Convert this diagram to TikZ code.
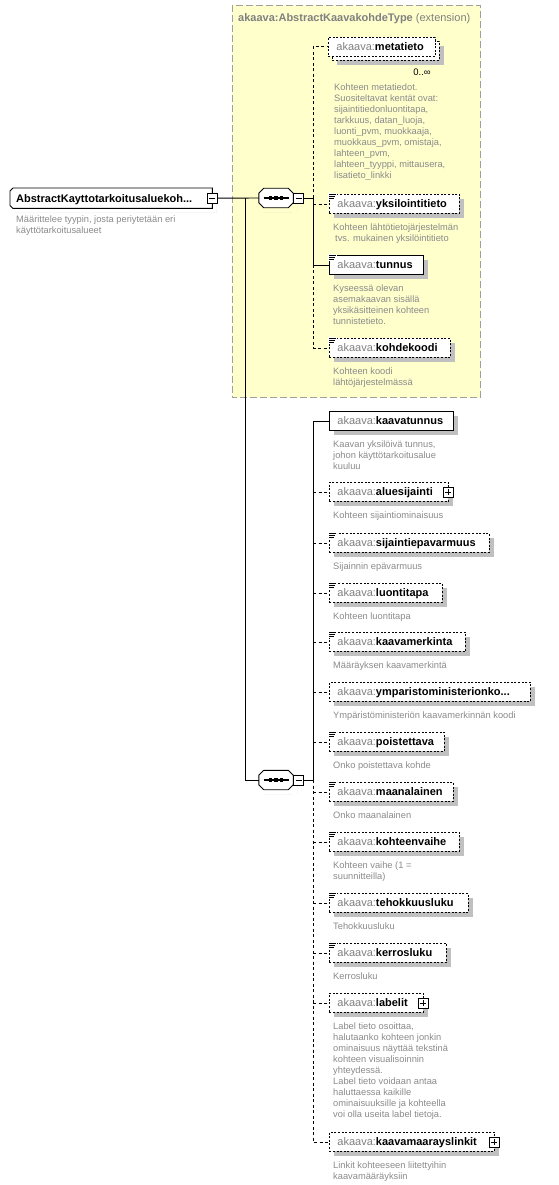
\documentclass[tikz,border=0pt]{standalone}
\usepackage{fontspec}
\setmainfont{Liberation Sans}
\usetikzlibrary{shadows}
\definecolor{akgrey}{HTML}{808080}
\definecolor{descgrey}{HTML}{8A8A8A}
\definecolor{ylw}{HTML}{FFFFCC}
\definecolor{shgrey}{HTML}{C0C0C0}
\definecolor{framegrey}{HTML}{A0A0A0}
\newcommand\ename[2]{\makebox[#1][l]{\textcolor{akgrey}{akaava:}\textbf{#2}}}
\newcommand\simpicon[1]{%
  \fill[white] ([xshift=-1pt,yshift=1pt]#1.north west) rectangle ++(8.5pt,-7pt);
  \draw[line width=0.8pt] ([yshift=-0.5pt]#1.north west) -- ++(7pt,0pt);
  \draw[line width=0.8pt] ([yshift=-2.5pt]#1.north west) -- ++(6pt,0pt);
  \draw[line width=0.8pt] ([yshift=-4.5pt]#1.north west) -- ++(5pt,0pt);}
% octagon outline of a named node, chamfer #2 (left) and #3 (right)
\newcommand\octpath[3]{([xshift=#2]#1.north west) -- ([xshift=-#3]#1.north east) -- ([yshift=-#3]#1.north east)
  -- ([yshift=#3]#1.south east) -- ([xshift=-#3]#1.south east) -- ([xshift=#2]#1.south west)
  -- ([yshift=#2]#1.south west) -- ([yshift=-#2]#1.north west) -- cycle}
\newcommand\octshape[3]{%
  \fill[shgrey] ([shift={(4.5pt,-4.5pt)}]#1.north west) ++(#2,0pt) -- ([shift={(4.5pt,-4.5pt)}]#1.north east) ++(-#3,0pt)
     -- ([shift={(4.5pt,-4.5pt)}]#1.north east) ++(0pt,-#3) -- ([shift={(4.5pt,-4.5pt)}]#1.south east) ++(0pt,#3)
     -- ([shift={(4.5pt,-4.5pt)}]#1.south east) ++(-#3,0pt) -- ([shift={(4.5pt,-4.5pt)}]#1.south west) ++(#2,0pt)
     -- ([shift={(4.5pt,-4.5pt)}]#1.south west) ++(0pt,#2) -- ([shift={(4.5pt,-4.5pt)}]#1.north west) ++(0pt,-#2) -- cycle;
  \filldraw[fill=white, draw=black, line width=0.9pt] \octpath{#1}{#2}{#3};}
\tikzset{
  shad/.style={drop shadow={shadow xshift=4.5pt, shadow yshift=-4.5pt, fill=shgrey, opacity=1}},
  elbase/.style={draw=black, fill=white, line width=0.9pt, anchor=north west,
    inner xsep=8pt, inner ysep=0pt, minimum height=19pt, text height=8pt, text depth=0pt,
    font=\fontsize{11}{13}\selectfont},
  elbox/.style={elbase, shad},
  optb/.style={dash pattern=on 2pt off 1.6pt},
  conn/.style={line width=0.9pt},
  optc/.style={conn, dash pattern=on 3pt off 2.5pt},
  desc/.style={anchor=north west, inner sep=0pt, align=left, text=descgrey,
    font=\fontsize{9.3}{11}\selectfont},
  pm/.style={draw=black, fill=white, line width=0.8pt, minimum size=10pt, inner sep=0pt},
  minusbox/.style={pm, path picture={\draw[line width=0.8pt] ([xshift=2pt]path picture bounding box.west) -- ([xshift=-2pt]path picture bounding box.east);}},
  plusbox/.style={pm, path picture={\draw[line width=0.8pt] ([xshift=2pt]path picture bounding box.west) -- ([xshift=-2pt]path picture bounding box.east);
      \draw[line width=0.8pt] ([yshift=-2pt]path picture bounding box.north) -- ([yshift=2pt]path picture bounding box.south);}},
  seqbox/.style={rectangle, minimum width=34pt, minimum height=19pt, inner sep=0pt},
  rootbox/.style={rectangle, anchor=north west, inner xsep=6pt, inner ysep=0pt, minimum height=20pt,
    text height=8pt, text depth=0pt, font=\fontsize{11}{13}\selectfont\bfseries}
}
\begin{document}
\begin{tikzpicture}[x=1pt,y=-1pt]
\useasboundingbox (0,0) rectangle (558,1185);
% extension region
\fill[ylw] (232,5.5) rectangle (480.5,397.5);
\draw[framegrey, line width=0.9pt, dash pattern=on 7pt off 3pt] (232,5.5) rectangle (480.5,397.5);
\node[anchor=base west, inner sep=0pt, text=akgrey, font=\fontsize{11}{13}\selectfont] (title) at (238,22)
  {\textbf{akaava:AbstractKaavakohdeType} (extension)};

% root
\node[rootbox] (root) at (10,188) {\makebox[190pt][l]{\phantom{A}}};
\octshape{root}{3pt}{0pt}
\node[rootbox] (roottxt) at (10,188) {\makebox[190pt][l]{AbstractKayttotarkoitusaluekoh...}};
\node[minusbox] (rootm) at (root.east) {};
\node[desc] (rootd) at (16,214.5) {\strut M\"a\"arittelee tyypin, josta periytet\"a\"an eri\\k\"aytt\"otarkoitusalueet};

% sequences
\node[seqbox] (seq1) at (276,198) {};
\node[seqbox] (seq2) at (276,780) {};
\foreach \s in {seq1,seq2}{
  \octshape{\s}{5pt}{5pt}
  \draw[line width=1.1pt] ([xshift=-12.5pt]\s.center) -- ([xshift=12.5pt]\s.center);
  \foreach \d in {-5.5,0,5.5}{
    \fill ([xshift=\d pt]\s.center) ++(-1.7pt,-1.7pt) rectangle ++(3.4pt,3.4pt);}
}
\node[minusbox, anchor=west] (seq1m) at (seq1.east) {};
\node[minusbox, anchor=west] (seq2m) at (seq2.east) {};
\coordinate (j) at (245,198);
\coordinate (s1) at (313,198);
\coordinate (s2) at (313,780);

% first sequence elements
\node[elbase, optb, minimum width=107pt, shad] (metab) at (332,41) {};
\node[elbase, optb] (meta) at (328,37) {\ename{91pt}{metatieto}};
\node[inner sep=0pt, font=\fontsize{9.5}{11}\selectfont] (occ) at (422,72) {0..∞};
\node[desc] (metad) at (334,83) {\strut Kohteen metatiedot.\\Suositeltavat kent\"at ovat:\\sijaintitiedonluontitapa,\\tarkkuus, datan\_luoja,\\luonti\_pvm, muokkaaja,\\muokkaus\_pvm, omistaja,\\lahteen\_pvm,\\lahteen\_tyyppi, mittausera,\\lisatieto\_linkki};

\node[elbox, optb] (yks) at (329,194) {\ename{114pt}{yksilointitieto}};
\node[desc] (yksd) at ([xshift=4pt,yshift=-8.3pt]yks.south west) {\strut Kohteen l\"aht\"otietoj\"arjestelm\"an\\\hspace*{2pt}tvs. mukainen yksil\"ointitieto};

\node[elbox] (tun) at (329,255) {\ename{78pt}{tunnus}};
\node[desc] (tund) at ([xshift=4pt,yshift=-8.3pt]tun.south west) {\strut Kyseess\"a olevan\\asemakaavan sis\"all\"a\\yksik\"asitteinen kohteen\\tunnistetieto.};

\node[elbox, optb] (kod) at (329,338) {\ename{105pt}{kohdekoodi}};
\node[desc] (kodd) at ([xshift=4pt,yshift=-8.3pt]kod.south west) {\strut Kohteen koodi\\l\"aht\"oj\"arjestelm\"ass\"a};

% second sequence elements
\node[elbox] (kt) at (329,411) {\ename{108pt}{kaavatunnus}};
\node[desc] (ktd) at ([xshift=4pt,yshift=-8.3pt]kt.south west) {\strut Kaavan yksil\"oiv\"a tunnus,\\johon k\"aytt\"otarkoitusalue\\kuuluu};

\node[elbox, optb] (al) at (329,482) {\ename{103pt}{aluesijainti}};
\node[plusbox] (alp) at ([xshift=-0.5pt]al.east) {};
\node[desc] (ald) at ([xshift=4pt,yshift=-8.3pt]al.south west) {\strut Kohteen sijaintiominaisuus};

\node[elbox, optb] (sep) at (329,533) {\ename{144pt}{sijaintiepavarmuus}};
\node[desc] (sepd) at ([xshift=4pt,yshift=-8.3pt]sep.south west) {\strut Sijainnin ep\"avarmuus};

\node[elbox, optb] (lt) at (329,583) {\ename{97pt}{luontitapa}};
\node[desc] (ltd) at ([xshift=4pt,yshift=-8.3pt]lt.south west) {\strut Kohteen luontitapa};

\node[elbox, optb] (km) at (329,632) {\ename{120pt}{kaavamerkinta}};
\node[desc] (kmd) at ([xshift=4pt,yshift=-8.3pt]km.south west) {\strut M\"a\"ar\"ayksen kaavamerkint\"a};

\node[elbox, optb] (ym) at (329,682) {\ename{185pt}{ymparistoministerionko...}};
\node[desc] (ymd) at ([xshift=4pt,yshift=-8.3pt]ym.south west) {\strut Ymp\"arist\"oministeri\"on kaavamerkinn\"an koodi};

\node[elbox, optb] (po) at (329,732) {\ename{99pt}{poistettava}};
\node[desc] (pod) at ([xshift=4pt,yshift=-8.3pt]po.south west) {\strut Onko poistettava kohde};

\node[elbox, optb] (ma) at (329,782) {\ename{108pt}{maanalainen}};
\node[desc] (mad) at ([xshift=4pt,yshift=-8.3pt]ma.south west) {\strut Onko maanalainen};

\node[elbox, optb] (kv) at (329,832) {\ename{114pt}{kohteenvaihe}};
\node[desc] (kvd) at ([xshift=4pt,yshift=-8.3pt]kv.south west) {\strut Kohteen vaihe (1 =\\suunnitteilla)};

\node[elbox, optb] (te) at (329,893) {\ename{123pt}{tehokkuusluku}};
\node[desc] (ted) at ([xshift=4pt,yshift=-8.3pt]te.south west) {\strut Tehokkuusluku};

\node[elbox, optb] (ke) at (329,943) {\ename{101pt}{kerrosluku}};
\node[desc] (ked) at ([xshift=4pt,yshift=-8.3pt]ke.south west) {\strut Kerrosluku};

\node[elbox, optb] (la) at (329,993) {\ename{78pt}{labelit}};
\node[plusbox] (lap) at ([xshift=-1pt]la.east) {};
\node[desc] (lad) at ([xshift=4pt,yshift=-8.3pt]la.south west) {\strut Label tieto osoittaa,\\halutaanko kohteen jonkin\\ominaisuus n\"aytt\"a\"a tekstin\"a\\kohteen visualisoinnin\\yhteydess\"a.\\Label tieto voidaan antaa\\haluttaessa kaikille\\ominaisuuksille ja kohteella\\voi olla useita label tietoja.};

\node[elbox, optb] (kml) at (329,1132) {\ename{149pt}{kaavamaarayslinkit}};
\node[plusbox] (kmlp) at ([xshift=-1pt]kml.east) {};
\node[desc] (kmld) at ([xshift=4pt,yshift=-8.3pt]kml.south west) {\strut Linkit kohteeseen liitettyihin\\kaavam\"a\"ar\"ayksiin};

% simple-type icons
\foreach \n in {yks,tun,kod,sep,lt,km,po,ma,kv,te,ke}{\simpicon{\n}}

% connectors
\draw[conn] (rootm.east) -- (seq1.west);
\draw[conn] (j) |- (seq2.west);
\draw[conn] (seq1m.east) -- (s1);
\draw[conn] (seq2m.east) -- (s2);
\draw[optc] (s1) -- (s1 |- meta.west) -- (meta.west);
\draw[optc] (s1 |- yks.west) -- (yks.west);
\draw[conn] (s1) -- (s1 |- tun.west) -- (tun.west);
\draw[optc] (s1 |- tun.west) -- (s1 |- kod.west) -- (kod.west);
\draw[conn] (s2) -- (s2 |- kt.west) -- (kt.west);
\draw[optc] (s2) -- (s2 |- kml.west) -- (kml.west);
\foreach \n in {al,sep,lt,km,ym,po,ma,kv,te,ke,la}{
  \draw[optc] (s2 |- \n.west) -- (\n.west);}
\end{tikzpicture}
\end{document}
